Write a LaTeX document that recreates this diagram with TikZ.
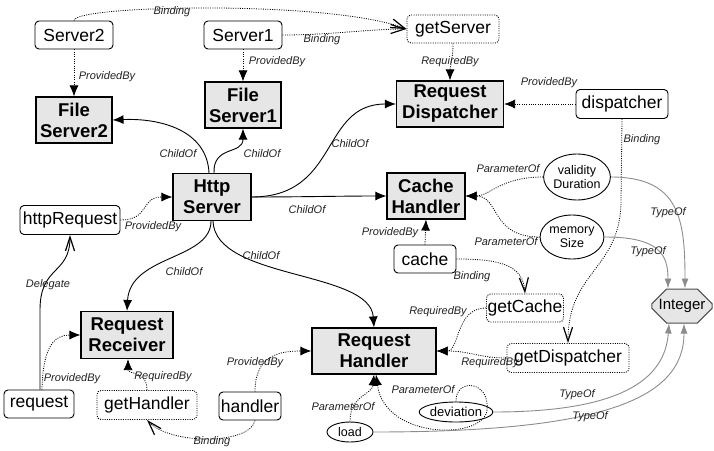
\documentclass[tikz,border=0pt]{standalone}
\usepackage{fontspec}
\setmainfont{Liberation Sans}
\usetikzlibrary{arrows.meta,shapes.misc,shapes.geometric}
\definecolor{boxgray}{HTML}{E6E6E6}
\definecolor{edgegray}{HTML}{8C8C8C}
\definecolor{labtext}{HTML}{222222}
\begin{document}
\begin{tikzpicture}[x=1pt,y=-1pt,
  gbox/.style={draw=black,line width=1.1pt,fill=boxgray,inner sep=0pt,align=center,
    font=\fontsize{18.5}{21}\selectfont\bfseries},
  rbox/.style={draw=black,line width=0.9pt,rounded corners=4pt,fill=white,inner sep=0pt,
    font=\fontsize{17.5}{20}\selectfont},
  dbox/.style={rbox,dash pattern=on 1pt off 1.3pt},
  ell/.style={ellipse,draw=black,line width=0.9pt,fill=white,inner sep=0pt,align=center,
    font=\fontsize{12.5}{13.5}\selectfont},
  intbox/.style={chamfered rectangle,chamfered rectangle xsep=7pt,chamfered rectangle ysep=8pt,
    draw=black!70,line width=1pt,fill=boxgray,inner sep=0pt,minimum width=60pt,minimum height=34pt,
    font=\fontsize{15}{17}\selectfont},
  lab/.style={font=\fontsize{11}{12}\selectfont\itshape,inner sep=0pt,text=labtext},
  pe/.style={line width=0.8pt,dash pattern=on 1pt off 1.3pt,-{Latex[length=11pt,width=9pt]}},
  se/.style={line width=0.9pt,-{Latex[length=11pt,width=9pt]}},
  be/.style={line width=0.8pt,dash pattern=on 1pt off 1.3pt,-{Straight Barb[length=14pt,width=9pt,line width=1.2pt]}},
  de/.style={line width=0.9pt,-{Straight Barb[length=14pt,width=9pt,line width=1.2pt]}},
  te/.style={line width=0.9pt,draw=edgegray,-{Latex[length=10pt,width=7pt]}},
]
\useasboundingbox (0,0) rectangle (714,450);

% nodes
\node[rbox,minimum width=78pt,minimum height=28pt] (S2) at (74,35) {Server2};
\node[rbox,minimum width=78pt,minimum height=28pt] (S1) at (243,35) {Server1};
\node[dbox,minimum width=92pt,minimum height=28pt] (GS) at (453,29) {getServer};
\node[gbox,minimum width=76pt,minimum height=46pt] (FS2) at (74,120) {File\\Server2};
\node[gbox,minimum width=76pt,minimum height=46pt] (FS1) at (243,105) {File\\Server1};
\node[gbox,minimum width=107pt,minimum height=46pt] (RD) at (450,104) {Request\\Dispatcher};
\node[rbox,minimum width=92pt,minimum height=29pt] (DI) at (622,104) {dispatcher};
\node[gbox,minimum width=78pt,minimum height=47pt] (HS) at (212,197) {Http\\Server};
\node[rbox,minimum width=100pt,minimum height=29pt] (HR) at (70,220) {httpRequest};
\node[gbox,minimum width=78pt,minimum height=46pt] (CH) at (426,196) {Cache\\Handler};
\node[ell,minimum width=62pt,minimum height=46pt] (VD) at (577,177) {validity\\Duration};
\node[ell,minimum width=61pt,minimum height=44pt] (MS) at (572,237) {memory\\Size};
\node[rbox,minimum width=62pt,minimum height=28pt] (CA) at (425,259) {cache};
\node[dbox,minimum width=77pt,minimum height=28pt] (GC) at (525,308) {getCache};
\node[dbox,minimum width=122pt,minimum height=29pt] (GD) at (568,358) {getDispatcher};
\node[intbox] (IN) at (682,306) {Integer};
\node[gbox,minimum width=124pt,minimum height=46pt] (RH) at (374,351) {Request\\Handler};
\node[ell,minimum width=46pt,minimum height=20pt] (LO) at (350,432) {load};
\node[ell,minimum width=61pt,minimum height=20pt,font=\fontsize{13}{14}\selectfont] (DV) at (456,412) {deviation};
\node[gbox,minimum width=92pt,minimum height=47pt] (RR) at (127,335) {Request\\Receiver};
\node[rbox,minimum width=70pt,minimum height=28pt] (RQ) at (39,404) {request};
\node[dbox,minimum width=100pt,minimum height=29pt] (GH) at (147,405) {getHandler};
\node[rbox,minimum width=62pt,minimum height=28pt] (HA) at (250,406) {handler};

% edges
\draw[pe] (S2.south) -- (FS2.north);
\draw[pe] (S1.south) -- (FS1.north);
\draw[be] (S2.north) .. controls (74,5) and (330,0) .. (GS.west);
\draw[be] (S1.east) .. controls (330,35) and (370,29) .. (GS.west);
\draw[pe] (GS.south) .. controls (453,60) and (450,65) .. (RD.north);
\draw[pe] (DI.west) -- (RD.east);
\draw[be] (DI.south) -- (621,200) .. controls (621,270) and (568,270) .. (GD.north);
\draw[se] ([xshift=-3pt]HS.north) .. controls (207,130) and (160,118) .. (FS2.east);
\draw[se] ([xshift=2pt]HS.north) .. controls (213,145) and (243,155) .. (FS1.south);
\draw[se] (HS.east) .. controls (340,197) and (320,104) .. (RD.west);
\draw[se] (HS.east) .. controls (300,197) and (340,196) .. (CH.west);
\draw[se] ([xshift=-1pt]HS.south) .. controls (211,260) and (130,255) .. (RR.north);
\draw[se] ([xshift=1pt]HS.south) .. controls (215,280) and (370,270) .. (RH.north);
\draw[pe] (HR.east) .. controls (150,220) and (140,197) .. (HS.west);
\draw[pe] (VD.west) .. controls (500,177) and (490,196) .. (CH.east);
\draw[pe] (MS.west) .. controls (490,237) and (500,196) .. (CH.east);
\draw[pe] (CA.north) -- (CH.south);
\draw[be] (CA.east) .. controls (500,259) and (523,265) .. (GC.north);
\draw[te] (VD.east) .. controls (680,177) and (685,220) .. ([xshift=3pt]IN.north);
\draw[te] (MS.east) .. controls (660,237) and (668,255) .. ([xshift=-14pt]IN.north);
\draw[pe] (GC.west) .. controls (455,308) and (460,351) .. (RH.east);
\draw[pe] (GD.west) .. controls (480,358) and (470,351) .. (RH.east);
\draw[pe] (DV.north) .. controls (455,378) and (490,380) .. (487,410)
   .. controls (484,440) and (385,440) .. ([xshift=2pt]RH.south);
\draw[pe] (LO.north) .. controls (350,395) and (372,395) .. (RH.south);
\draw[te] (DV.east) .. controls (620,412) and (665,380) .. ([xshift=-13pt]IN.south);
\draw[te] (LO.east) .. controls (600,432) and (684,400) .. ([xshift=2pt]IN.south);
\draw[de] ([xshift=1pt]RQ.north) -- (40,310) .. controls (40,265) and (70,275) .. (HR.south);
\draw[pe] ([xshift=3pt]RQ.north) .. controls (43,345) and (55,335) .. (RR.west);
\draw[pe] (GH.north) .. controls (147,370) and (128,375) .. ([xshift=1pt]RR.south);
\draw[be] ([xshift=5pt]HA.south) .. controls (250,445) and (170,445) .. (GH.south);
\draw[pe] ([xshift=5pt]HA.north) .. controls (255,355) and (280,351) .. (RH.west);

% labels
\node[lab] (l1) at (107,77) {ProvidedBy};
\node[lab] (l2) at (277,62) {ProvidedBy};
\node[lab] (l3) at (172,12) {Binding};
\node[lab] (l4) at (322,40) {Binding};
\node[lab] (l5) at (450,62) {RequiredBy};
\node[lab] (l6) at (549,83) {ProvidedBy};
\node[lab] (l7) at (642,140) {Binding};
\node[lab] (l8) at (178,154) {ChildOf};
\node[lab] (l9) at (262,154) {ChildOf};
\node[lab] (l10) at (350,144) {ChildOf};
\node[lab] (l11) at (307,210) {ChildOf};
\node[lab] (l12) at (261,256) {ChildOf};
\node[lab] (l13) at (184,272) {ChildOf};
\node[lab] (l14) at (153,227) {ProvidedBy};
\node[lab] (l15) at (48,285) {Delegate};
\node[lab] (l16) at (508,169) {ParameterOf};
\node[lab] (l17) at (506,242) {ParameterOf};
\node[lab] (l18) at (390,233) {ProvidedBy};
\node[lab] (l19) at (472,277) {Binding};
\node[lab] (l20) at (668,213) {TypeOf};
\node[lab] (l21) at (648,252) {TypeOf};
\node[lab] (l22) at (438,312) {RequiredBy};
\node[lab] (l23) at (490,363) {RequiredBy};
\node[lab] (l24) at (343,407) {ParameterOf};
\node[lab] (l25) at (423,390) {ParameterOf};
\node[lab] (l26) at (577,395) {TypeOf};
\node[lab] (l27) at (590,417) {TypeOf};
\node[lab] (l28) at (72,379) {ProvidedBy};
\node[lab] (l29) at (163,377) {RequiredBy};
\node[lab] (l30) at (255,363) {ProvidedBy};
\node[lab] (l31) at (212,442) {Binding};
\end{tikzpicture}
\end{document}
